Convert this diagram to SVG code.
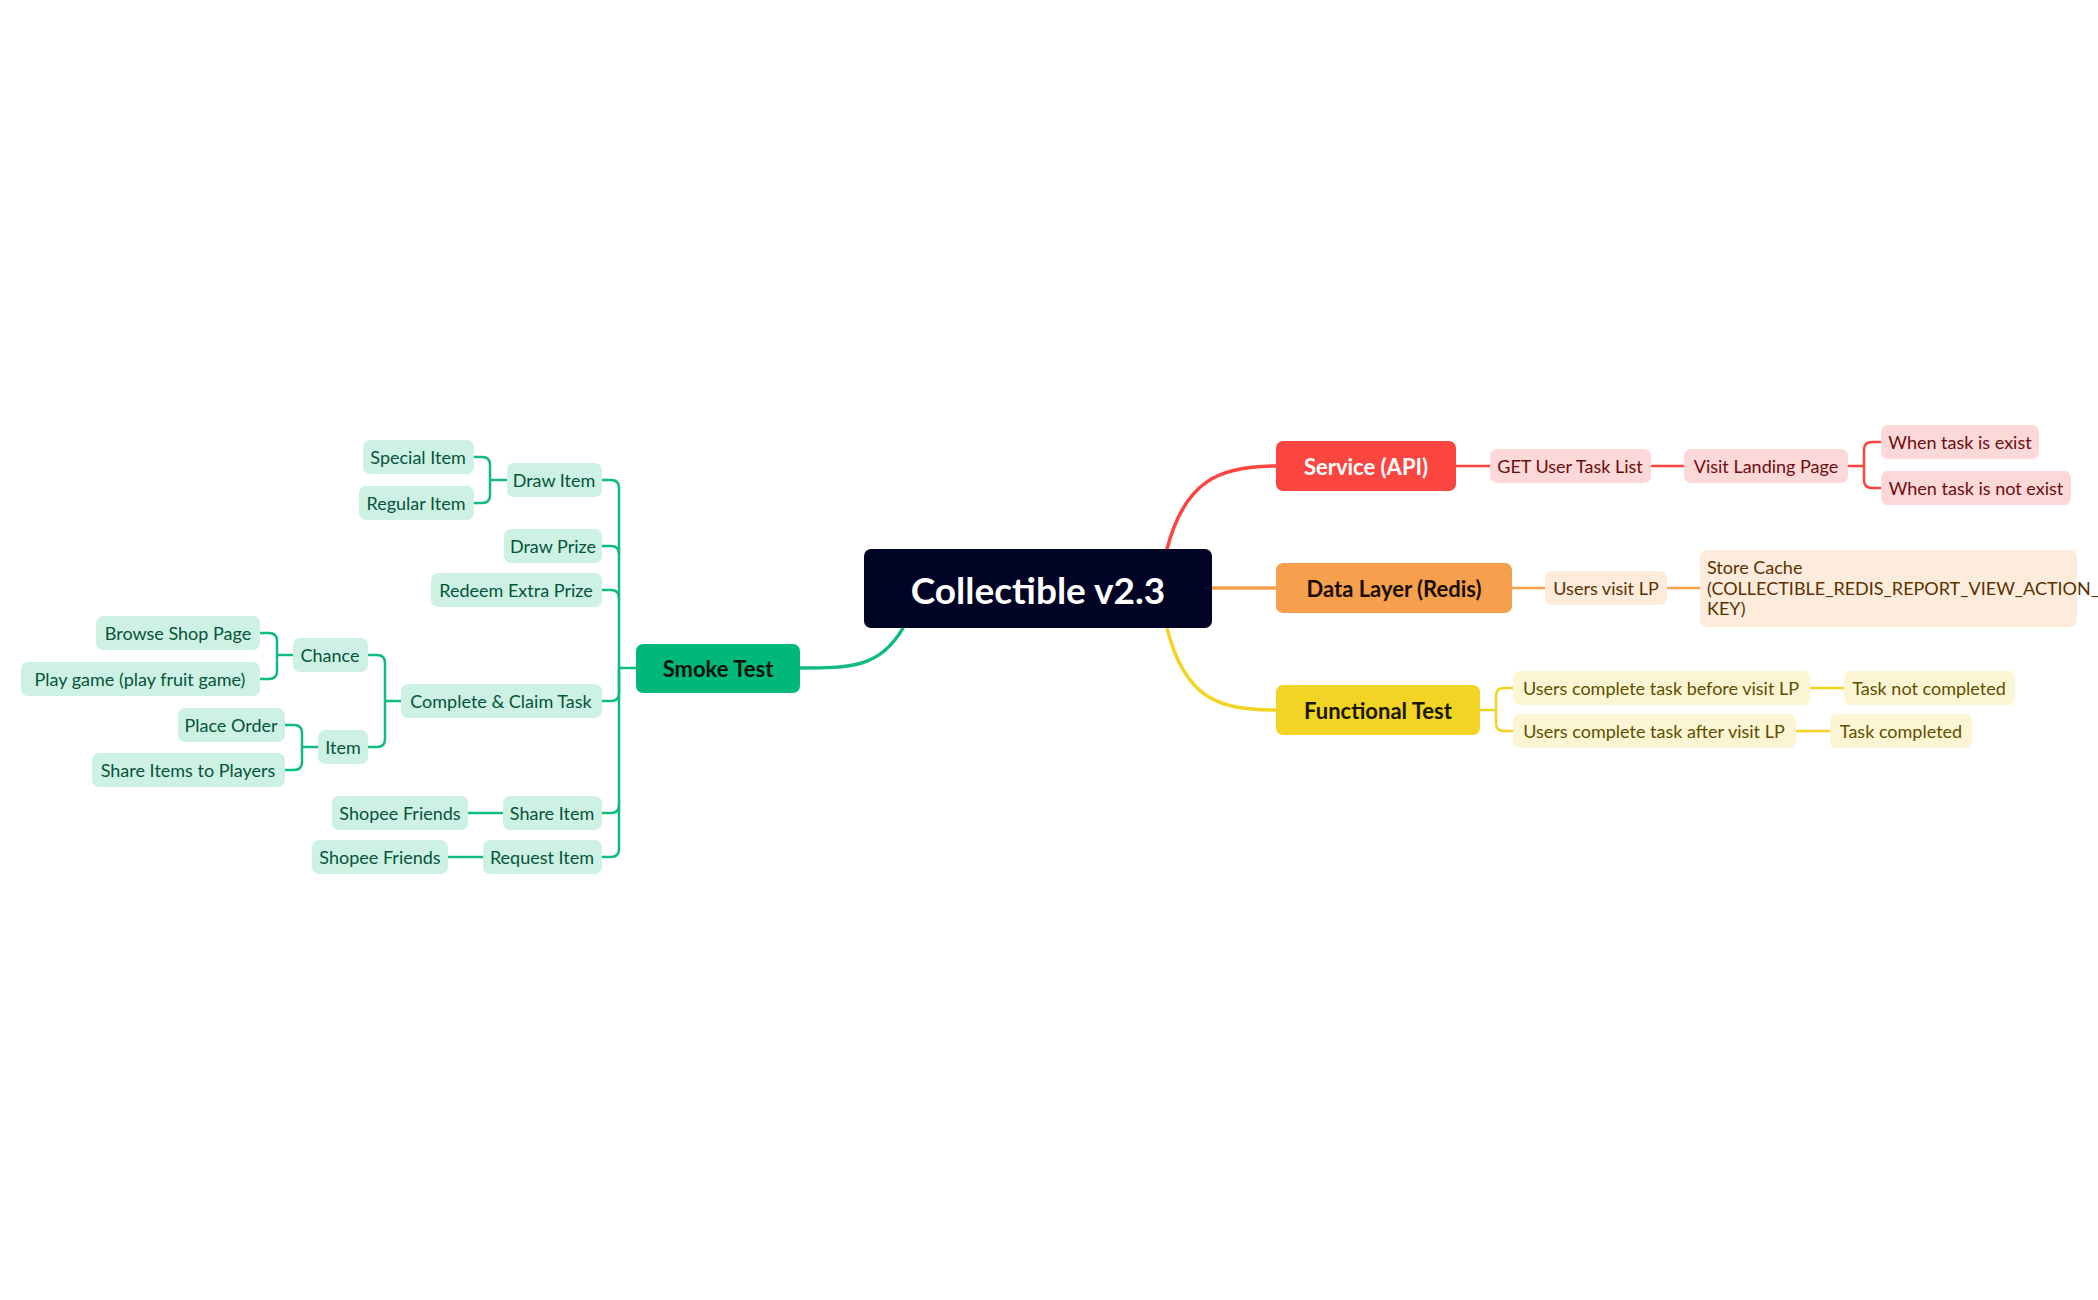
<svg xmlns="http://www.w3.org/2000/svg" width="2098" height="1300" viewBox="0 0 2098 1300">
<style>
text{font-family:Lato,"Open Sans",sans-serif;text-anchor:middle;dominant-baseline:central}
.s{font-size:18px}
.m{font-size:22px;font-weight:bold}
.g rect{fill:#cdf1e3}.g text{fill:#05543a}
.r rect{fill:#fdd8d8}.r text{fill:#6b0d0d}
.o rect{fill:#fdebdc}.o text{fill:#5a3200}
.y rect{fill:#fcf5d3}.y text{fill:#5c4f00}
.c path{fill:none;stroke-linecap:round}
.cg{stroke:#10bb7e}.cr{stroke:#fa4540}.co{stroke:#f6a04d}.cy{stroke:#f2d424}
</style>
<rect width="2098" height="1300" fill="#fff"/>
<g class="c" id="connectors">
<path class="cg" stroke-width="3.5" d="M903 628 C880 668 850 668 800 668"/>
<path class="cr" stroke-width="3.5" d="M1167 549 C1185 480 1220 466 1276 466"/>
<path class="co" stroke-width="3.5" d="M1212 588 H1276"/>
<path class="cy" stroke-width="3.5" d="M1167 628 C1185 700 1220 710 1276 710"/>
<g class="cg" stroke-width="2.5">
<path d="M636 668 H619 V488 Q619 480 611 480 H602"/>
<path d="M619 554 Q619 546 611 546 H602"/>
<path d="M619 598 Q619 590 611 590 H602"/>
<path d="M619 668 V693 Q619 701 611 701 H602"/>
<path d="M619 668 V849 Q619 857 611 857 H602"/>
<path d="M619 805 Q619 813 611 813 H602"/>
<path d="M507 480 H490 V465 Q490 457 482 457 H474 M490 480 V495 Q490 503 482 503 H474"/>
<path d="M401 701 H385 V663 Q385 655 377 655 H368 M385 701 V739 Q385 747 377 747 H368"/>
<path d="M293 655 H277 V641 Q277 633 269 633 H260 M277 655 V671 Q277 679 269 679 H260"/>
<path d="M318 747 H302 V733 Q302 725 294 725 H285 M302 747 V762 Q302 770 294 770 H285"/>
<path d="M503 813 H468 M483 857 H448"/>
</g>
<g class="cr" stroke-width="2.5">
<path d="M1456 466 H1490 M1651 466 H1684"/>
<path d="M1848 466 H1864 V450 Q1864 442 1872 442 H1881 M1864 466 V480 Q1864 488 1872 488 H1881"/>
</g>
<g class="co" stroke-width="2.5"><path d="M1512 588 H1545 M1667 588 H1700"/></g>
<g class="cy" stroke-width="2.5">
<path d="M1480 710 H1496 V696 Q1496 688 1504 688 H1513 M1496 710 V723 Q1496 731 1504 731 H1513"/>
<path d="M1810 688 H1844 M1796 731 H1830"/>
</g>
</g>
<g id="root"><rect x="864" y="549" width="348" height="79" rx="7" fill="#020426"/><text x="1038" y="589" font-size="37" font-weight="bold" fill="#fff">Collectible v2.3</text></g>
<g id="smoke"><rect x="636" y="644" width="164" height="49" rx="7" fill="#00b87a"/><text class="m" x="718" y="668" fill="#04130c">Smoke Test</text></g>
<g id="service"><rect x="1276" y="441" width="180" height="50" rx="7" fill="#fa4540"/><text class="m" x="1366" y="466" fill="#fff">Service (API)</text></g>
<g id="data"><rect x="1276" y="563" width="236" height="50" rx="7" fill="#f6a04d"/><text class="m" x="1394" y="588" fill="#1a0d00">Data Layer (Redis)</text></g>
<g id="func"><rect x="1276" y="685" width="204" height="50" rx="7" fill="#f2d424"/><text class="m" x="1378" y="710" fill="#1a1600">Functional Test</text></g>
<g class="g">
<g id="drawitem"><rect x="507" y="463" width="95" height="34" rx="7"/><text class="s" x="554" y="480">Draw Item</text></g>
<g id="special"><rect x="363" y="440" width="111" height="34" rx="7"/><text class="s" x="418" y="457">Special Item</text></g>
<g id="regular"><rect x="359" y="486" width="115" height="34" rx="7"/><text class="s" x="416" y="503">Regular Item</text></g>
<g id="drawprize"><rect x="504" y="529" width="98" height="34" rx="7"/><text class="s" x="553" y="546">Draw Prize</text></g>
<g id="redeem"><rect x="431" y="573" width="171" height="34" rx="7"/><text class="s" x="516" y="590">Redeem Extra Prize</text></g>
<g id="complete"><rect x="401" y="684" width="201" height="34" rx="7"/><text class="s" x="501" y="701">Complete &amp; Claim Task</text></g>
<g id="chance"><rect x="293" y="638" width="75" height="34" rx="7"/><text class="s" x="330" y="655">Chance</text></g>
<g id="browse"><rect x="96" y="616" width="164" height="34" rx="7"/><text class="s" x="178" y="633">Browse Shop Page</text></g>
<g id="play"><rect x="21" y="662" width="239" height="34" rx="7"/><text class="s" x="140" y="679">Play game (play fruit game)</text></g>
<g id="item"><rect x="318" y="730" width="50" height="34" rx="7"/><text class="s" x="343" y="747">Item</text></g>
<g id="place"><rect x="178" y="708" width="107" height="34" rx="7"/><text class="s" x="231" y="725">Place Order</text></g>
<g id="shareplayers"><rect x="92" y="753" width="193" height="34" rx="7"/><text class="s" x="188" y="770">Share Items to Players</text></g>
<g id="shareitem"><rect x="503" y="796" width="99" height="34" rx="7"/><text class="s" x="552" y="813">Share Item</text></g>
<g id="friends1"><rect x="332" y="796" width="136" height="34" rx="7"/><text class="s" x="400" y="813">Shopee Friends</text></g>
<g id="request"><rect x="483" y="840" width="119" height="34" rx="7"/><text class="s" x="542" y="857">Request Item</text></g>
<g id="friends2"><rect x="312" y="840" width="136" height="34" rx="7"/><text class="s" x="380" y="857">Shopee Friends</text></g>
</g>
<g class="r">
<g id="get"><rect x="1490" y="449" width="161" height="34" rx="7"/><text class="s" x="1570" y="466">GET User Task List</text></g>
<g id="visit"><rect x="1684" y="449" width="164" height="34" rx="7"/><text class="s" x="1766" y="466">Visit Landing Page</text></g>
<g id="exist"><rect x="1881" y="425" width="158" height="34" rx="7"/><text class="s" x="1960" y="442">When task is exist</text></g>
<g id="notexist"><rect x="1881" y="471" width="190" height="34" rx="7"/><text class="s" x="1976" y="488">When task is not exist</text></g>
</g>
<g class="o">
<g id="uvlp"><rect x="1545" y="571" width="122" height="34" rx="7"/><text class="s" x="1606" y="588">Users visit LP</text></g>
<g id="store"><rect x="1700" y="550" width="377" height="77" rx="7"/><text class="s" x="1707" y="567" style="text-anchor:start">Store Cache</text><text class="s" x="1707" y="588" style="text-anchor:start">(COLLECTIBLE_REDIS_REPORT_VIEW_ACTION_</text><text class="s" x="1707" y="608" style="text-anchor:start">KEY)</text></g>
</g>
<g class="y">
<g id="before"><rect x="1513" y="671" width="297" height="34" rx="7"/><text class="s" x="1661" y="688">Users complete task before visit LP</text></g>
<g id="notcomp"><rect x="1844" y="671" width="171" height="34" rx="7"/><text class="s" x="1929" y="688">Task not completed</text></g>
<g id="after"><rect x="1513" y="714" width="283" height="34" rx="7"/><text class="s" x="1654" y="731">Users complete task after visit LP</text></g>
<g id="comp"><rect x="1830" y="714" width="142" height="34" rx="7"/><text class="s" x="1901" y="731">Task completed</text></g>
</g>
</svg>
